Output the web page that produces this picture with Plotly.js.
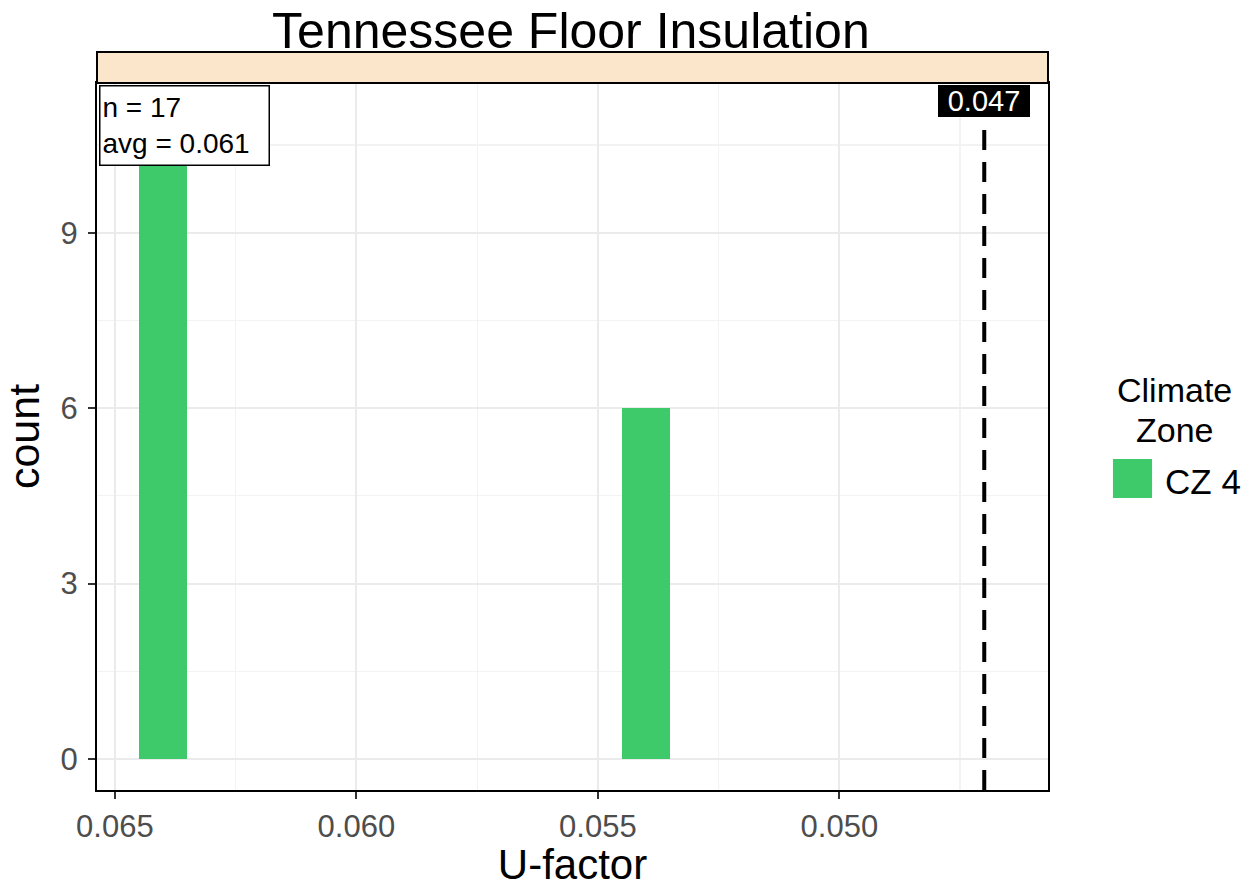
<!DOCTYPE html>
<html>
<head>
<meta charset="utf-8">
<script src="https://cdn.plot.ly/plotly-3.0.1.min.js"></script>
<style>body{margin:0;background:#fff;} #chart{width:1252px;height:888px;}</style>
</head>
<body>
<div id="chart"></div>
<script>
// Data
const uFactor = [0.064, 0.054];
const counts = [11, 6];
const seriesName = "CZ 4";
const legendTitleLines = ["Climate", "Zone"];
const requirement = 0.047;
const nHomes = 17;
const avgU = 0.061;
const xTicks = [0.065, 0.060, 0.055, 0.050];
const xTickLabels = ["0.065", "0.060", "0.055", "0.050"];
const yTicks = [0, 3, 6, 9];

const font = "Liberation Sans, Arial, sans-serif";
const barColor = "#3EC96B";

const traces = [{
  type: "bar",
  x: uFactor,
  y: counts,
  width: 0.001,
  name: seriesName,
  marker: {color: barColor, line: {width: 0}},
  showlegend: false
}];

const layout = {
  width: 1252, height: 888,
  margin: {l: 97, r: 204, t: 83, b: 98},
  paper_bgcolor: "#fff", plot_bgcolor: "#fff",
  font: {family: font, color: "#000"},
  showlegend: false,
  title: {text: "Tennessee Floor Insulation", x: 0.456, xanchor: "center", y: 0.966, yanchor: "middle",
          font: {size: 50, color: "#000", family: font}},
  bargap: 0,
  xaxis: {
    range: [0.06537, 0.04568],
    tickvals: xTicks, ticktext: xTickLabels,
    ticks: "outside", ticklen: 7, tickcolor: "#333", tickwidth: 2,
    ticklabelstandoff: 1,
    tickfont: {size: 31, color: "#4D4D4D"},
    showgrid: true, gridcolor: "#EBEBEB", gridwidth: 2,
    minor: {dtick: 0.0025, tick0: 0.0025, showgrid: true, gridcolor: "#F3F3F3", gridwidth: 1.2},
    zeroline: false,
    showline: true, linecolor: "#000", linewidth: 2, mirror: true,
    title: {text: "U-factor", font: {size: 42, color: "#000"}, standoff: 2}
  },
  yaxis: {
    range: [-0.53, 11.56],
    tickvals: yTicks,
    ticks: "outside", ticklen: 7, tickcolor: "#333", tickwidth: 2,
    ticklabelstandoff: 4,
    tickfont: {size: 31, color: "#4D4D4D"},
    showgrid: true, gridcolor: "#EBEBEB", gridwidth: 2,
    minor: {dtick: 1.5, tick0: 1.5, showgrid: true, gridcolor: "#F3F3F3", gridwidth: 1.2},
    zeroline: false,
    showline: true, linecolor: "#000", linewidth: 2, mirror: true,
    title: {text: "count", font: {size: 43, color: "#000"}, standoff: 10}
  },
  shapes: [
    {type: "rect", xref: "paper", yref: "paper", x0: 0, x1: 1, y0: 1, y1: 1.0438,
     fillcolor: "#FCE6CB", line: {color: "#000", width: 2}, layer: "above"},
    {type: "line", xref: "x", yref: "paper", x0: requirement, x1: requirement, y0: 0, y1: 0.95,
     line: {color: "#000", width: 4, dash: "20px,12px"}},
    // legend swatch
    {type: "rect", xref: "paper", yref: "paper", x0: 1.0683, x1: 1.1094, y0: 0.413, y1: 0.4682,
     fillcolor: barColor, line: {width: 0}}
  ],
  annotations: [
    {xref: "paper", yref: "paper", x: 0.002, y: 0.9975, xanchor: "left", yanchor: "top",
     text: "n = " + nHomes + "<br>avg = " + avgU.toFixed(3), align: "left", valign: "middle",
     showarrow: false, width: 164, height: 74,
     font: {size: 28, color: "#000"}, bgcolor: "#fff", bordercolor: "#000", borderwidth: 1.5, borderpad: 2},
    {xref: "x", yref: "paper", x: requirement, y: 0.9745, xanchor: "center", yanchor: "middle",
     text: requirement.toFixed(3), showarrow: false, width: 88, height: 28,
     font: {size: 29, color: "#fff"}, bgcolor: "#000", bordercolor: "#000", borderwidth: 1, borderpad: 1},
    // legend text
    {xref: "paper", yref: "paper", x: 1.1335, y: 0.5655, xanchor: "center", yanchor: "middle",
     text: legendTitleLines[0], showarrow: false, height: 34, borderpad: 0, font: {size: 34, color: "#000"}},
    {xref: "paper", yref: "paper", x: 1.1335, y: 0.5092, xanchor: "center", yanchor: "middle",
     text: legendTitleLines[1], showarrow: false, height: 34, borderpad: 0, font: {size: 34, color: "#000"}},
    {xref: "paper", yref: "paper", x: 1.1209, y: 0.437, xanchor: "left", yanchor: "middle",
     text: seriesName, showarrow: false, font: {size: 35, color: "#000"}}
  ]
};

Plotly.newPlot("chart", traces, layout, {displayModeBar: false, staticPlot: true});
</script>
</body>
</html>
